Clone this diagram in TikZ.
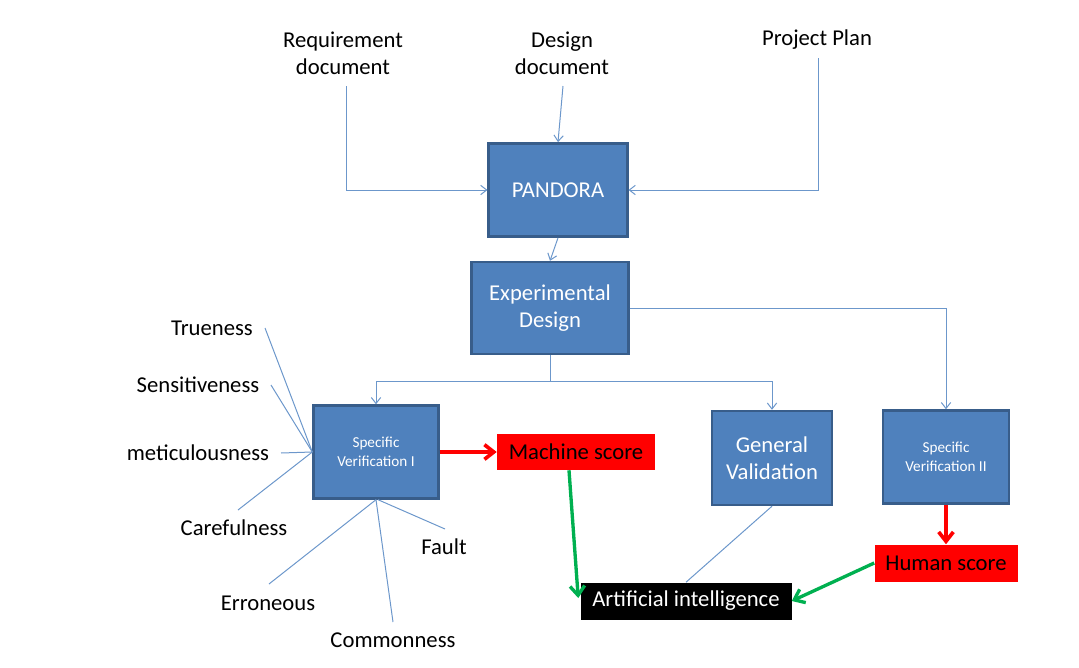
\documentclass[tikz,border=0pt]{standalone}
\usepackage{fontspec}
\setmainfont{Carlito}
\usetikzlibrary{arrows.meta,calc}
\definecolor{boxblue}{HTML}{4F81BD}
\definecolor{boxedge}{HTML}{385D8A}
\definecolor{linkblue}{HTML}{6C97CB}
\definecolor{aigreen}{HTML}{00B050}
\begin{document}
\begin{tikzpicture}[x=0.75pt,y=-0.75pt,
  lbl/.style={font=\fontsize{17}{20.25}\selectfont, align=center, inner sep=0pt},
  bluebox/.style={draw=boxedge, line width=1.8pt, fill=boxblue, text=white, align=center, inner sep=0pt, font=\fontsize{17}{20.5}\selectfont},
  smallbox/.style={bluebox, font=\fontsize{11.4}{14}\selectfont},
  redbox/.style={fill=red, text=black, inner sep=0pt, font=\fontsize{17}{20.5}\selectfont},
  blackbox/.style={fill=black, text=white, inner sep=0pt, font=\fontsize{17}{20.5}\selectfont},
  link/.style={draw=linkblue, line width=0.75pt, -{Straight Barb[length=4.5pt,width=7pt]}},
  plainlink/.style={draw=linkblue, line width=0.75pt},
  redarrow/.style={draw=red, line width=2.75pt, -{Straight Barb[length=7pt,width=11pt]}},
  greenarrow/.style={draw=aigreen, line width=2.5pt, -{Straight Barb[length=7pt,width=11pt]}}
]
\useasboundingbox (0,0) rectangle (1079,668);

% top labels
\node[lbl] (req) at (343,53) {Requirement\\document};
\node[lbl] (des) at (562,53) {Design\\document};
\node[lbl] (plan) at (817,40) {Project Plan};
\coordinate (reqend) at (346,86);
\coordinate (desend) at (563,86);
\coordinate (planend) at (818,58);

% boxes
\node[bluebox, minimum width=104pt, minimum height=70pt] (pandora) at (558,190) {PANDORA};
\node[bluebox, minimum width=117.75pt, minimum height=69pt] (exp) at (550,308) {Experimental\\Design};
\node[smallbox, minimum width=93.75pt, minimum height=69.75pt] (spec1) at (376,452) {Specific\\Verification I};
\node[bluebox, minimum width=90pt, minimum height=70.5pt] (genval) at (772,458) {General\\Validation};
\node[smallbox, minimum width=94.5pt, minimum height=69.75pt] (spec2) at (946,457) {Specific\\Verification II};
\node[redbox, minimum width=118.5pt, minimum height=27pt] (machine) at (576,452) {Machine score};
\node[redbox, minimum width=107.25pt, minimum height=27.75pt] (human) at (946,563) {Human score};
\node[blackbox, minimum width=158.25pt, minimum height=27.75pt] (ai) at (686,601) {Artificial intelligence};

% attribute labels
\node[lbl] (true) at (212,328) {Trueness};
\node[lbl] (sens) at (198,385) {Sensitiveness};
\node[lbl] (meti) at (198,453) {meticulousness};
\node[lbl] (care) at (234,528) {Carefulness};
\node[lbl] (erro) at (268,603) {Erroneous};
\node[lbl] (comm) at (393,640) {Commonness};
\node[lbl] (fault) at (444,547) {Fault};
\coordinate (trueend) at (265,328);
\coordinate (sensend) at (271,385);
\coordinate (metiend) at (281,453);
\coordinate (careend) at (238,510);
\coordinate (erroend) at (269,584);
\coordinate (commend) at (393,622);
\coordinate (faultend) at (445,529);

% connectors
\draw[link] (reqend) |- (pandora.west);
\draw[link] (desend) -- (pandora.north);
\draw[link] (planend) |- (pandora.east);
\draw[link] (pandora.south) -- (exp.north);
\coordinate (split) at ($(exp.south)+(0,26)$);
\draw[plainlink] (exp.south) -- (split);
\draw[link] (split) -| (spec1.north);
\draw[link] (split) -| (genval.north);
\draw[link] (exp.east) -| (spec2.north);

\foreach \c in {trueend,sensend,metiend,careend}
  \draw[plainlink] (\c) -- (spec1.west);
\draw[plainlink] (erroend) -- (spec1.south);
\draw[plainlink] (commend) -- (spec1.south);
\draw[plainlink] (faultend) -- ($(spec1.south)+(2,0)$);

\draw[redarrow] (spec1.east) -- (machine.west);
\draw[redarrow] (spec2.south) -- (human.north);
\draw[greenarrow] ($(machine.south)+(-7,0)$) -- ($(ai.west)+(-2,-3)$);
\draw[greenarrow] (human.west) -- (ai.east);
\draw[plainlink] (genval.south) -- (ai.north);
\end{tikzpicture}
\end{document}
